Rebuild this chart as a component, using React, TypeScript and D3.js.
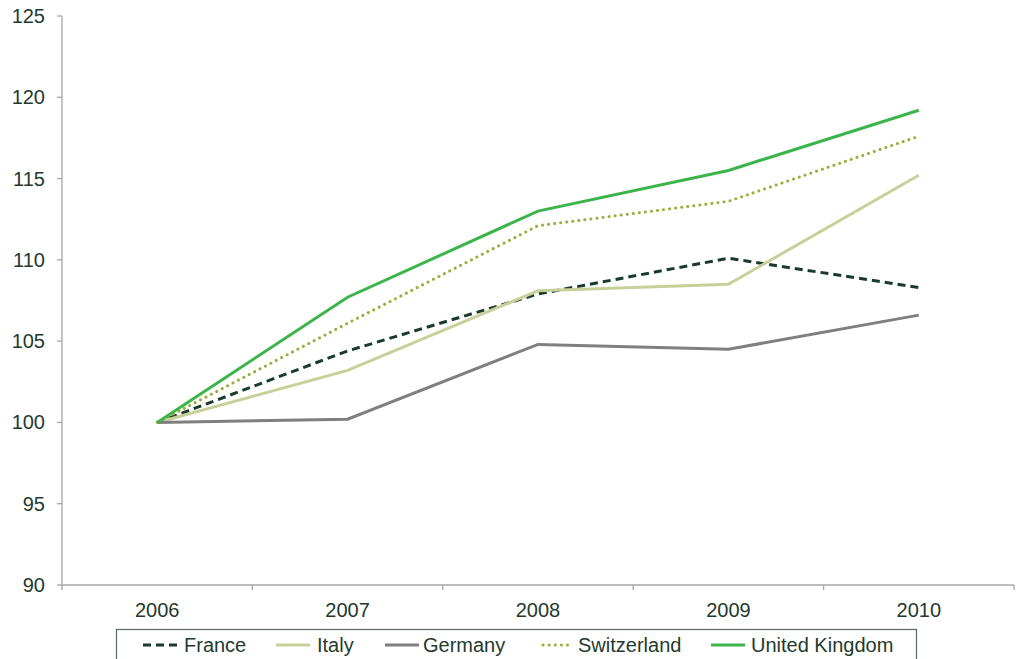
import { useEffect, useRef } from "react";
import * as d3 from "d3";

const years = ["2006", "2007", "2008", "2009", "2010"];
const france = [100, 104.4, 107.9, 110.1, 108.3];
const italy = [100, 103.2, 108.1, 108.5, 115.2];
const germany = [100, 100.2, 104.8, 104.5, 106.6];
const switzerland = [100, 106.1, 112.1, 113.6, 117.6];
const uk = [100, 107.7, 113.0, 115.5, 119.2];
const yTicks = [90, 95, 100, 105, 110, 115, 120, 125];

const W = 1016;
const H = 659;
const M = { left: 62, right: 1014, top: 16, bottom: 585 };
const TEXT = "#1f3a2e";
const FONT = "'Liberation Sans', Arial, sans-serif";
const FS = 20;

const series = [
  { name: "France", values: france, color: "#1a3a2c", width: 3, dash: "8 5", round: false, legendX: 143, textX: 184 },
  { name: "Italy", values: italy, color: "#c8d09a", width: 3, dash: null, round: false, legendX: 276, textX: 317 },
  { name: "Germany", values: germany, color: "#7f7f7f", width: 3, dash: null, round: false, legendX: 385, textX: 423 },
  { name: "Switzerland", values: switzerland, color: "#9aae3c", width: 3, dash: "0.1 6", round: true, legendX: 543, textX: 578 },
  { name: "United Kingdom", values: uk, color: "#3cb44b", width: 3, dash: null, round: false, legendX: 711, textX: 751 },
];

export default function App() {
  const ref = useRef<SVGSVGElement | null>(null);

  useEffect(() => {
    const svg = d3.select(ref.current);
    svg.selectAll("*").remove();

    const x = d3.scaleBand().domain(years).range([M.left, M.right]);
    const y = d3.scaleLinear().domain([90, 125]).range([M.bottom, M.top]);
    const axisColor = "#a6a6a6";

    // y axis
    svg.append("line")
      .attr("x1", M.left).attr("x2", M.left)
      .attr("y1", M.top).attr("y2", M.bottom)
      .attr("stroke", axisColor).attr("stroke-width", 1.3);
    yTicks.forEach((t) => {
      svg.append("line")
        .attr("x1", M.left - 5).attr("x2", M.left)
        .attr("y1", y(t)).attr("y2", y(t))
        .attr("stroke", axisColor).attr("stroke-width", 1.3);
      svg.append("text")
        .attr("x", 45).attr("y", y(t) + 7)
        .attr("text-anchor", "end")
        .attr("fill", TEXT).attr("font-size", FS).attr("font-family", FONT)
        .text(t);
    });

    // x axis
    svg.append("line")
      .attr("x1", M.left).attr("x2", M.right)
      .attr("y1", M.bottom).attr("y2", M.bottom)
      .attr("stroke", axisColor).attr("stroke-width", 1.3);
    [...years.map((d) => x(d)!), M.right].forEach((px) => {
      svg.append("line")
        .attr("x1", px).attr("x2", px)
        .attr("y1", M.bottom).attr("y2", M.bottom + 5)
        .attr("stroke", axisColor).attr("stroke-width", 1.3);
    });
    years.forEach((d) => {
      svg.append("text")
        .attr("x", x(d)! + x.bandwidth() / 2).attr("y", 617)
        .attr("text-anchor", "middle")
        .attr("fill", TEXT).attr("font-size", FS).attr("font-family", FONT)
        .text(d);
    });

    const line = d3.line<number>()
      .x((_, i) => x(years[i])! + x.bandwidth() / 2)
      .y((v) => y(v));

    series.forEach((s) => {
      const p = svg.append("path")
        .attr("d", line(s.values))
        .attr("fill", "none")
        .attr("stroke", s.color)
        .attr("stroke-width", s.width);
      if (s.dash) p.attr("stroke-dasharray", s.dash);
      if (s.round) p.attr("stroke-linecap", "round");
    });

    // legend
    svg.append("rect")
      .attr("x", 116.5).attr("y", 629.5)
      .attr("width", 800).attr("height", 40)
      .attr("fill", "white")
      .attr("stroke", "#5a6660").attr("stroke-width", 1.2);
    series.forEach((s) => {
      const l = svg.append("line")
        .attr("x1", s.legendX).attr("x2", s.legendX + (s.round ? 29 : 34))
        .attr("y1", 645).attr("y2", 645)
        .attr("stroke", s.color).attr("stroke-width", s.width);
      if (s.dash) l.attr("stroke-dasharray", s.dash);
      if (s.round) l.attr("stroke-linecap", "round");
      svg.append("text")
        .attr("x", s.textX).attr("y", 652)
        .attr("fill", TEXT).attr("font-size", FS).attr("font-family", FONT)
        .text(s.name);
    });
  }, []);

  return (
    <svg
      ref={ref}
      width={W}
      height={H}
      viewBox={`0 0 ${W} ${H}`}
      style={{ position: "absolute", left: 0, top: 0, background: "white" }}
    />
  );
}
